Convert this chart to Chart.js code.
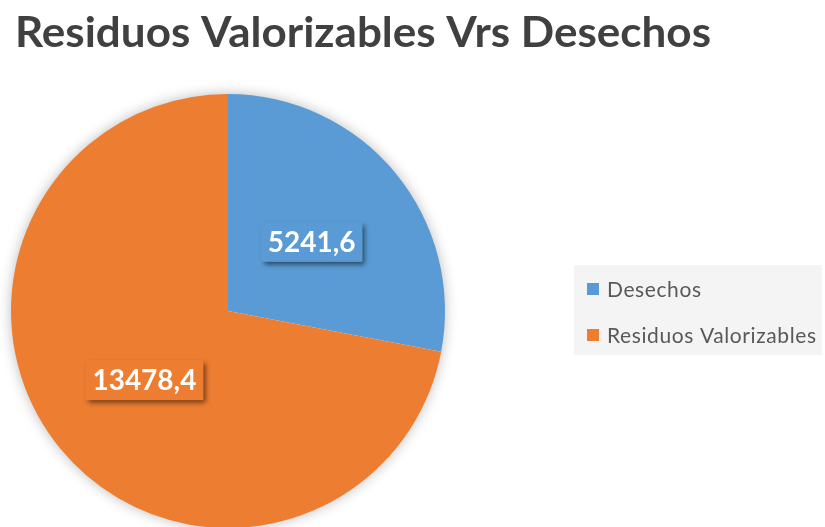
<!DOCTYPE html>
<html>
<head>
<meta charset="utf-8">
<script src="https://cdn.jsdelivr.net/npm/chart.js@4"></script>
<style>
  html, body { margin: 0; padding: 0; background: #ffffff; overflow: hidden; }
  canvas { display: block; }
</style>
</head>
<body>
<canvas id="c" width="825" height="527"></canvas>
<script>
const chartTitle = "Residuos Valorizables Vrs Desechos";
const categories = ["Desechos", "Residuos Valorizables"];
const values = [5241.6, 13478.4];
const valueLabels = ["5241,6", "13478,4"];
const colors = ["#5B9BD5", "#ED7D31"];

function drawScaledText(ctx, text, x, y, font, color, targetWidth) {
  ctx.save();
  ctx.font = font;
  ctx.fillStyle = color;
  ctx.textBaseline = "alphabetic";
  ctx.textAlign = "left";
  const w = ctx.measureText(text).width;
  const sx = targetWidth ? targetWidth / w : 1;
  ctx.translate(x, y);
  ctx.scale(sx, 1);
  ctx.fillText(text, 0, 0);
  ctx.restore();
}

const decorPlugin = {
  id: "decor",
  beforeDatasetsDraw(chart) {
    const ctx = chart.ctx;
    const arc = chart.getDatasetMeta(0).data[0];
    if (!arc) return;
    ctx.save();
    ctx.shadowColor = "rgba(0,0,0,0.30)";
    ctx.shadowBlur = 14;
    ctx.shadowOffsetX = 0;
    ctx.shadowOffsetY = 0;
    ctx.fillStyle = "#ffffff";
    ctx.beginPath();
    ctx.arc(arc.x, arc.y, arc.outerRadius - 1, 0, Math.PI * 2);
    ctx.fill();
    ctx.restore();
  },
  afterDatasetsDraw(chart) {
    const ctx = chart.ctx;
    const meta = chart.getDatasetMeta(0);
    const ds = chart.data.datasets[0];
    meta.data.forEach((arc, i) => {
      const p = arc.getCenterPoint();
      const text = valueLabels[i];
      ctx.save();
      ctx.font = "bold 28px Lato";
      const tw = ctx.measureText(text).width;
      const bw = tw + 14, bh = 40;
      const bx = p.x - bw / 2, by = p.y - bh / 2;
      ctx.shadowColor = "rgba(0,0,0,0.55)";
      ctx.shadowBlur = 5;
      ctx.shadowOffsetX = 3;
      ctx.shadowOffsetY = 3;
      ctx.fillStyle = ds.backgroundColor[i];
      ctx.fillRect(bx, by, bw, bh);
      ctx.shadowColor = "transparent";
      ctx.fillStyle = "#ffffff";
      ctx.textAlign = "center";
      ctx.textBaseline = "middle";
      ctx.fillText(text, p.x, p.y + 1);
      ctx.restore();
    });
  },
  afterDraw(chart) {
    const ctx = chart.ctx;
    drawScaledText(ctx, chartTitle, 15, 47, "bold 42px Lato", "#404040", 696);
    ctx.save();
    ctx.fillStyle = "#F4F4F4";
    ctx.fillRect(574, 265, 248, 90);
    ctx.restore();
    const ds = chart.data.datasets[0];
    chart.data.labels.forEach((lab, i) => {
      const yTop = 283 + i * 46;
      ctx.save();
      ctx.fillStyle = ds.backgroundColor[i];
      ctx.fillRect(587, yTop, 12, 12);
      ctx.restore();
      ctx.save();
      ctx.font = "21px Lato";
      ctx.letterSpacing = "0.6px";
      ctx.fillStyle = "#595959";
      ctx.textBaseline = "alphabetic";
      ctx.fillText(lab, 607, yTop + 14);
      ctx.restore();
    });
  }
};

new Chart(document.getElementById("c"), {
  type: "pie",
  data: {
    labels: categories,
    datasets: [{
      data: values,
      backgroundColor: colors,
      borderWidth: 0,
      radius: 217
    }]
  },
  options: {
    responsive: false,
    animation: false,
    devicePixelRatio: 1,
    layout: { padding: { left: 11, right: 380, top: 95, bottom: 0 } },
    plugins: {
      legend: { display: false },
      tooltip: { enabled: false },
      title: { display: false }
    }
  },
  plugins: [decorPlugin]
});
</script>
</body>
</html>
